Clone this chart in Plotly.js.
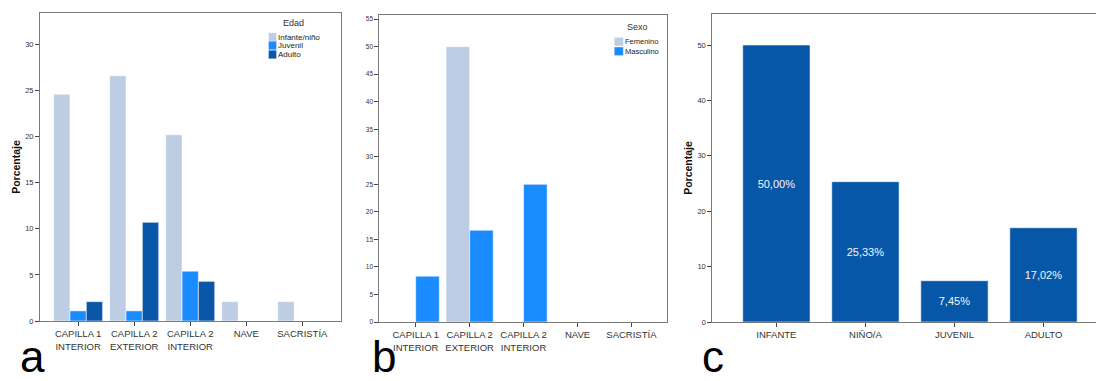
<!DOCTYPE html>
<html>
<head>
<meta charset="utf-8">
<script src="https://cdn.plot.ly/plotly-3.0.1.min.js"></script>
<style>html,body{margin:0;padding:0;background:#fff;}#chart{width:1096px;height:381px;}</style>
</head>
<body>
<div id="chart"></div>
<script>
// ---- data ----
const locations = ["CAPILLA 1<br>INTERIOR", "CAPILLA 2<br>EXTERIOR", "CAPILLA 2<br>INTERIOR", "NAVE", "SACRISTÍA"];
const edadInfante = [24.6, 26.6, 20.2, 2.1, 2.1];
const edadJuvenil = [1.1, 1.1, 5.4, 0, 0];
const edadAdulto  = [2.1, 10.7, 4.3, 0, 0];
const sexoFemenino  = [0, 50.0, 0, 0, 0];
const sexoMasculino = [8.33, 16.67, 25.0, 0, 0];
const ageGroups = ["INFANTE", "NIÑO/A", "JUVENIL", "ADULTO"];
const ageValues = [50.00, 25.33, 7.45, 17.02];
const edadNames = ["Infante/niño", "Juvenil", "Adulto"];
const sexoNames = ["Femenino", "Masculino"];
const panelLetters = ["a", "b", "c"];

// ---- style ----
const FONT = "Liberation Sans, Arial, sans-serif";
const LIGHT = "#BDCDE4", MID = "#1A8CFF", DARK = "#0A56A8", CBAR = "#0757A8";
const W = 1096, H = 381;
const px = v => v / W;
const py = v => 1 - v / H;
const edge = {color: "rgba(255,255,255,0.55)", width: 1};

const traces = [
  {type: "bar", x: locations, y: edadInfante, name: edadNames[0], xaxis: "x", yaxis: "y", marker: {color: LIGHT, line: edge}, showlegend: false},
  {type: "bar", x: locations, y: edadJuvenil, name: edadNames[1], xaxis: "x", yaxis: "y", marker: {color: MID, line: edge}, showlegend: false},
  {type: "bar", x: locations, y: edadAdulto, name: edadNames[2], xaxis: "x", yaxis: "y", marker: {color: DARK, line: edge}, showlegend: false},
  {type: "bar", x: locations, y: sexoFemenino, name: sexoNames[0], xaxis: "x2", yaxis: "y2", marker: {color: LIGHT, line: edge}, showlegend: false},
  {type: "bar", x: locations, y: sexoMasculino, name: sexoNames[1], xaxis: "x2", yaxis: "y2", marker: {color: MID, line: edge}, showlegend: false},
  {type: "bar", x: ageGroups, y: ageValues, xaxis: "x3", yaxis: "y3", width: 0.756,
   marker: {color: CBAR, line: edge}, showlegend: false,
   text: ageValues.map(v => v.toFixed(2).replace(".", ",") + "%"),
   textposition: "inside", insidetextanchor: "middle",
   textfont: {color: "#F4F6FA", size: 11, family: FONT}}
];

const frame = {showline: true, linecolor: "#7a7a7a", linewidth: 1, showgrid: false, zeroline: false};
const xcommon = Object.assign({}, frame, {type: "category", ticks: "outside", ticklen: 4, tickcolor: "#444",
  tickfont: {size: 9.5, color: "#333", family: FONT}, fixedrange: true});
const ycommon = Object.assign({}, frame, {ticks: "outside", ticklen: 4, tickcolor: "#444",
  tickfont: {size: 7.5, color: "#333", family: FONT}, fixedrange: true});
const ytitle = {text: "<b>Porcentaje</b>", font: {size: 10.5, color: "#111", family: FONT}, standoff: 2};

const layout = {
  width: W, height: H,
  margin: {l: 0, r: 0, t: 0, b: 0},
  paper_bgcolor: "#fff", plot_bgcolor: "#fff",
  font: {family: FONT, color: "#333"},
  barmode: "group", bargap: 0.125, bargroupgap: 0,
  showlegend: false,
  xaxis: Object.assign({}, xcommon, {domain: [px(40), px(341)], range: [-0.68, 4.69], mirror: true, anchor: "y"}),
  yaxis: Object.assign({}, ycommon, {domain: [py(321), py(13)], range: [0, 33.4], dtick: 5, mirror: true, anchor: "x", title: ytitle}),
  xaxis2: Object.assign({}, xcommon, {domain: [px(379.3), px(667)], range: [-0.675, 4.66], mirror: true, anchor: "y2"}),
  yaxis2: Object.assign({}, ycommon, {domain: [py(322), py(14.7)], range: [0, 55.8], dtick: 5, mirror: true, anchor: "x2",
    tickfont: {size: 6.5, color: "#333", family: FONT}}),
  xaxis3: Object.assign({}, xcommon, {domain: [px(712.3), 1], range: [-0.72, 3.59], mirror: true, anchor: "y3"}),
  yaxis3: Object.assign({}, ycommon, {domain: [py(322), py(14)], range: [0, 55.6], dtick: 10, mirror: false, anchor: "x3", title: ytitle}),
  shapes: [],
  annotations: []
};

// custom compact legends
function legend(title, names, colors, titleX, titleY, swX, rowY, swW, swH, fs) {
  layout.annotations.push({xref: "paper", yref: "paper", x: px(titleX), y: py(titleY), text: title,
    showarrow: false, xanchor: "center", yanchor: "middle", font: {size: 9, color: "#333", family: FONT}});
  names.forEach((n, i) => {
    const cy = rowY[i];
    layout.shapes.push({type: "rect", xref: "paper", yref: "paper",
      x0: px(swX), x1: px(swX + swW), y0: py(cy + swH / 2), y1: py(cy - swH / 2),
      fillcolor: colors[i], line: {color: "rgba(255,255,255,0.6)", width: 0.5}});
    layout.annotations.push({xref: "paper", yref: "paper", x: px(swX + swW + 0.5), y: py(cy), text: n,
      showarrow: false, xanchor: "left", yanchor: "middle", borderpad: 0, font: {size: fs, color: "#222", family: FONT}});
  });
}
legend("Edad", edadNames, [LIGHT, MID, DARK], 293, 22.7, 268.5, [37, 45.5, 54.5], 8, 8.5, 8);
legend("Sexo", sexoNames, [LIGHT, MID], 637.5, 27, 614.3, [41.7, 51.3], 9, 8.5, 7.5);

// panel letters
[20, 372, 702].forEach((x, i) => {
  layout.annotations.push({xref: "paper", yref: "paper", x: px(x), y: 0, text: panelLetters[i], showarrow: false,
    xanchor: "left", yanchor: "bottom", borderpad: 0, borderwidth: 0, font: {size: 44, color: "#000", family: FONT}});
});

Plotly.newPlot("chart", traces, layout, {displayModeBar: false, staticPlot: true});
</script>
</body>
</html>
